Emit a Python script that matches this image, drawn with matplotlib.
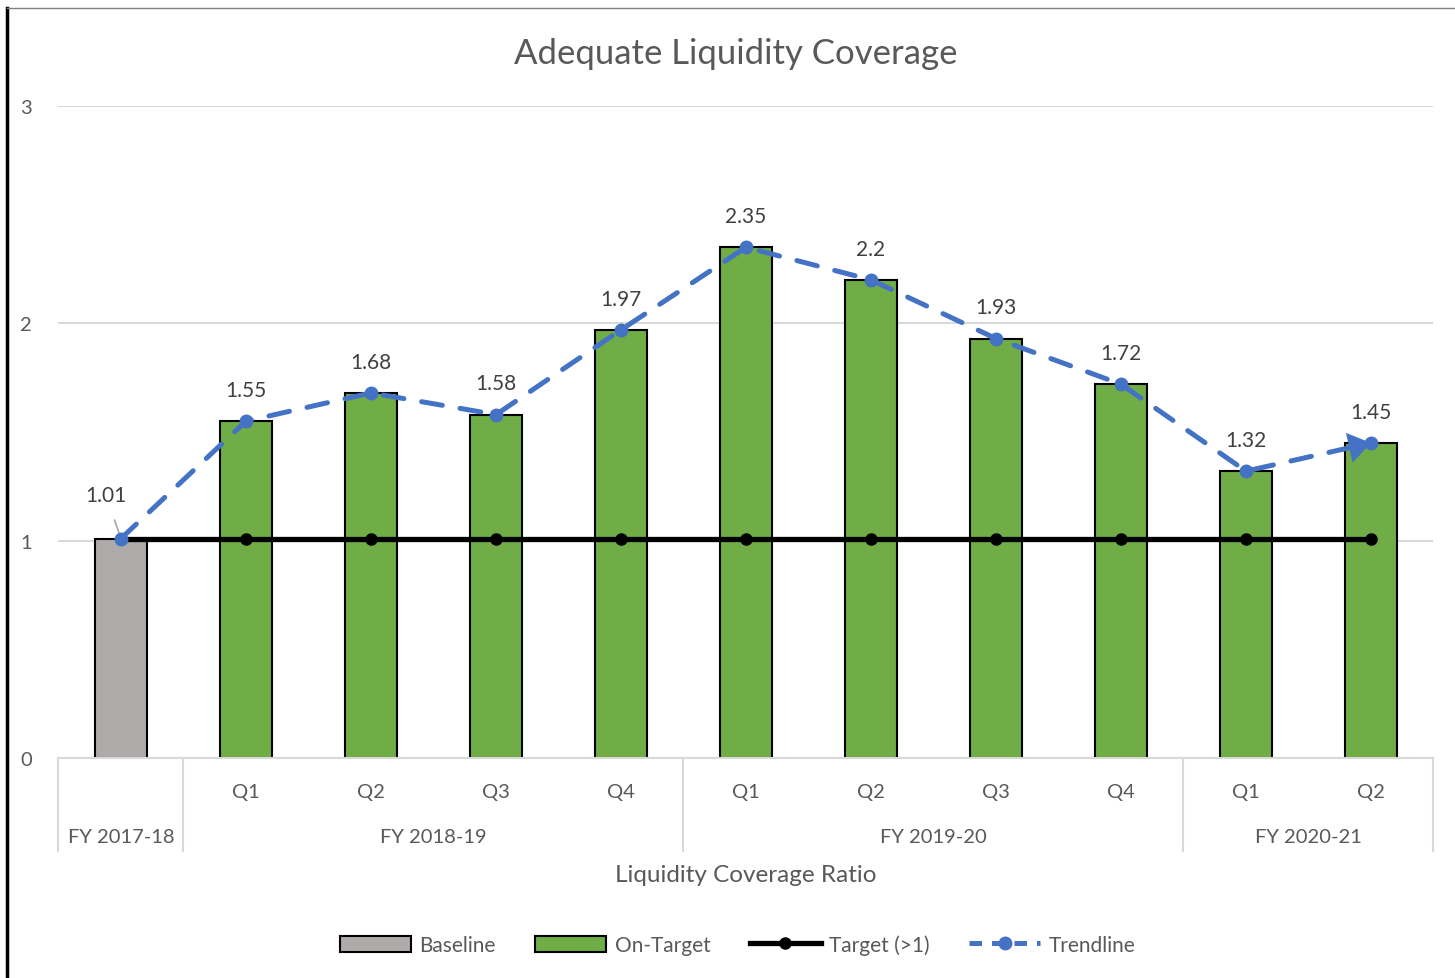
import numpy as np
import matplotlib
matplotlib.use("Agg")
import matplotlib.pyplot as plt
from matplotlib.patches import Patch, FancyArrowPatch
from matplotlib.lines import Line2D

plt.rcParams['font.family'] = ['Lato', 'DejaVu Sans']

# data
quarters = ['', 'Q1', 'Q2', 'Q3', 'Q4', 'Q1', 'Q2', 'Q3', 'Q4', 'Q1', 'Q2']
years = ['FY 2017-18', 'FY 2018-19', 'FY 2019-20', 'FY 2020-21']
year_span = [1, 4, 4, 2]
ratio = [1.01, 1.55, 1.68, 1.58, 1.97, 2.35, 2.2, 1.93, 1.72, 1.32, 1.45]
target = [1.01] * 11

grey = '#AEAAAA'
green = '#70AD47'
blue = '#4472C4'
txt = '#595959'

x = np.arange(len(ratio))

fig = plt.figure(figsize=(14.55, 9.79), dpi=100)
ax = fig.add_axes([0.0402, 0.2247, 0.945, 0.666])

colors = [grey] + [green] * (len(ratio) - 1)
ax.bar(x, ratio, width=0.41, color=colors, edgecolor='black', linewidth=1.5, zorder=2)

ax.plot(x, target, color='black', lw=3.8, marker='o', ms=8, zorder=3)

ax.plot(x, ratio, color=blue, lw=3.6, ls=(0, (4.2, 3.6)), marker='o', ms=9,
        dash_capstyle='round', zorder=4)
# arrow head at the end of the trend
arr = FancyArrowPatch((x[-1] - 0.3, ratio[-1] - 0.3 * (ratio[-1] - ratio[-2])),
                      (x[-1], ratio[-1]), arrowstyle='-|>,head_length=0.8,head_width=0.55',
                      mutation_scale=20, color=blue, lw=0, shrinkA=0, shrinkB=0, zorder=5)
ax.add_patch(arr)

# data labels
for i, v in enumerate(ratio):
    lbl = f'{v:g}'
    if i == 0:
        ax.annotate(lbl, xy=(x[i], v), xytext=(-11, 31), textcoords='offset points',
                    ha='center', va='center', fontsize=15, color='#404040',
                    arrowprops=dict(arrowstyle='-', color='#A6A6A6', lw=1.2,
                                    shrinkA=9, shrinkB=2))
    else:
        ax.annotate(lbl, xy=(x[i], v), xytext=(0, 22.5), textcoords='offset points',
                    ha='center', va='center', fontsize=15, color='#404040')

ax.set_xlim(-0.5, len(ratio) - 0.5)
ax.set_ylim(0, 3)
ax.set_yticks([0, 1, 2, 3])
ax.set_yticklabels(['0', '1', '2', '3'])
ax.tick_params(axis='y', length=0, pad=19, labelsize=14.5, labelcolor=txt)
ax.set_xticks([])
ax.grid(axis='y', color='#D9D9D9', lw=1.5, zorder=0)
ax.set_axisbelow(True)
for s in ['top', 'right', 'left']:
    ax.spines[s].set_visible(False)
ax.spines['bottom'].set_color('#D9D9D9')
ax.spines['bottom'].set_linewidth(1.5)

# multi-level category axis
tr = ax.get_xaxis_transform()
for i, q in enumerate(quarters):
    ax.text(x[i], -0.051, q, transform=tr, ha='center', va='center', fontsize=14.5, color=txt)
bounds = np.concatenate([[0], np.cumsum(year_span)]) - 0.5
for b in bounds:
    ax.plot([b, b], [0, -0.1426], transform=tr, color='#D9D9D9', lw=1.5, clip_on=False)
for j, y in enumerate(years):
    ax.text((bounds[j] + bounds[j + 1]) / 2, -0.121, y, transform=tr,
            ha='center', va='center', fontsize=14.5, color=txt)
ax.text(0.5, -0.178, 'Liquidity Coverage Ratio', transform=ax.transAxes,
        ha='center', va='center', fontsize=17.5, color=txt)

fig.text(0.506, 0.945, 'Adequate Liquidity Coverage', ha='center', va='center',
         fontsize=25, color=txt)

handles = [Patch(facecolor=grey, edgecolor='black', lw=1.5),
           Patch(facecolor=green, edgecolor='black', lw=1.5),
           Line2D([], [], color='black', lw=3.8, marker='o', ms=8),
           Line2D([], [], color=blue, lw=3.6, ls=(0, (2.5, 2)), marker='o', ms=9)]
fig.legend(handles, ['Baseline', 'On-Target', 'Target (>1)', 'Trendline'],
           loc='center', bbox_to_anchor=(0.507, 0.034), ncol=4, frameon=False,
           fontsize=15, labelcolor=txt, handlelength=3.4, handleheight=0.8,
           columnspacing=1.9, handletextpad=0.4)

# chart border remnants
fig.add_artist(Line2D([0.0048, 0.0048], [0, 0.991], color='black', lw=2.5))
fig.add_artist(Line2D([0.0048, 1], [0.991, 0.991], color='#7F7F7F', lw=1))

fig.savefig('out.png', dpi=100)
